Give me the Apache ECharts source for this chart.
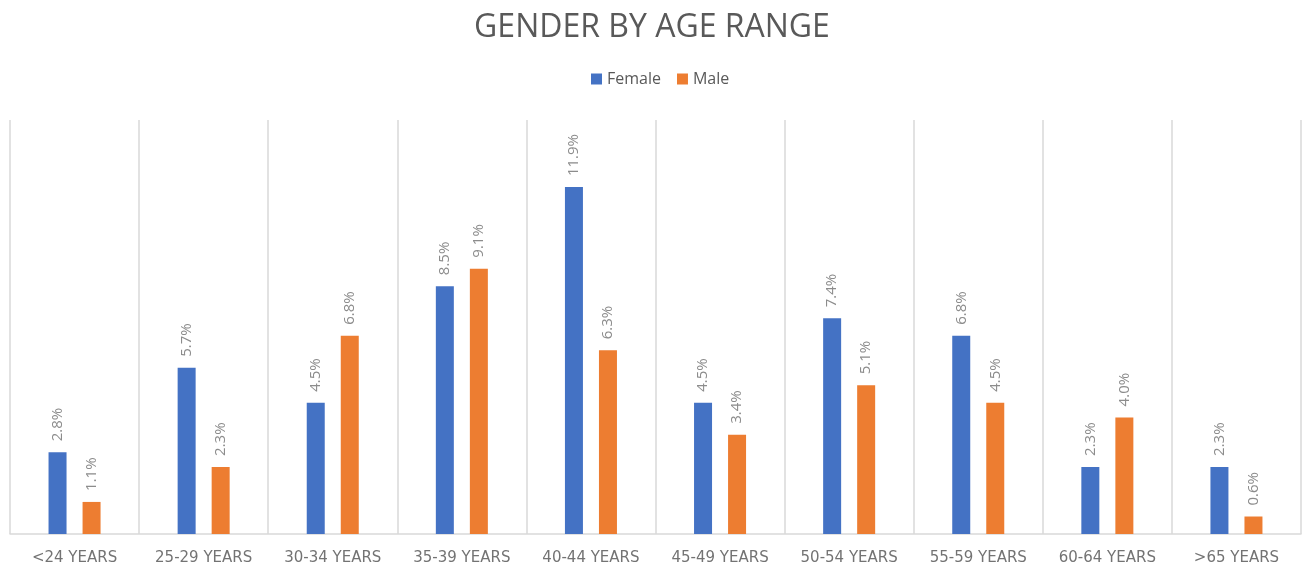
<!DOCTYPE html>
<html>
<head>
<meta charset="utf-8">
<script src="https://cdn.jsdelivr.net/npm/echarts@6/dist/echarts.min.js"></script>
<style>
  html, body { margin: 0; padding: 0; background: #fff; }
  #chart { width: 1304px; height: 574px; }
</style>
</head>
<body>
<div id="chart"></div>
<script>
var categories = ['<24 YEARS', '25-29 YEARS', '30-34 YEARS', '35-39 YEARS', '40-44 YEARS',
  '45-49 YEARS', '50-54 YEARS', '55-59 YEARS', '60-64 YEARS', '>65 YEARS'];
var femaleValues = [2.8, 5.7, 4.5, 8.5, 11.9, 4.5, 7.4, 6.8, 2.3, 2.3];
var maleValues = [1.1, 2.3, 6.8, 9.1, 6.3, 3.4, 5.1, 4.5, 4.0, 0.6];

var chart = echarts.init(document.getElementById('chart'));
var fontFamily = '"Open Sans", "DejaVu Sans", sans-serif';

function barLabel() {
  return {
    show: true,
    position: 'top',
    rotate: 90,
    align: 'left',
    verticalAlign: 'middle',
    distance: 11,
    fontSize: 15,
    fontFamily: fontFamily,
    color: '#8c8c8c',
    formatter: function(p) { return p.value.toFixed(1) + '%'; }
  };
}

chart.setOption({
  animation: false,
  title: {
    text: 'GENDER BY AGE RANGE',
    left: 'center',
    top: 7,
    textStyle: {fontSize: 32, fontWeight: 'normal', color: '#595959', fontFamily: fontFamily}
  },
  legend: {
    data: ['Female', 'Male'],
    top: 66,
    left: 586,
    itemWidth: 11,
    itemHeight: 11,
    itemGap: 16,
    icon: 'rect',
    textStyle: {fontSize: 16, color: '#595959', fontFamily: fontFamily}
  },
  grid: {
    left: 10,
    right: 3,
    top: 120,
    bottom: 40,
    containLabel: false
  },
  xAxis: {
    type: 'category',
    data: categories,
    axisLine: {lineStyle: {color: '#d9d9d9', width: 1.5}},
    axisTick: {show: false},
    splitLine: {show: true, lineStyle: {color: '#d9d9d9', width: 1.5}},
    axisLabel: {interval: 0, fontSize: 15, color: '#737373', fontFamily: '"DejaVu Sans", sans-serif', margin: 17}
  },
  yAxis: {
    type: 'value',
    min: 0,
    max: 14.2,
    show: false,
    splitLine: {show: false}
  },
  series: [
    {
      name: 'Female',
      type: 'bar',
      data: femaleValues,
      barWidth: 18,
      barGap: '89%',
      itemStyle: {color: '#4472C4'},
      label: barLabel()
    },
    {
      name: 'Male',
      type: 'bar',
      data: maleValues,
      barWidth: 18,
      itemStyle: {color: '#ED7D31'},
      label: barLabel()
    }
  ]
});
</script>
</body>
</html>
